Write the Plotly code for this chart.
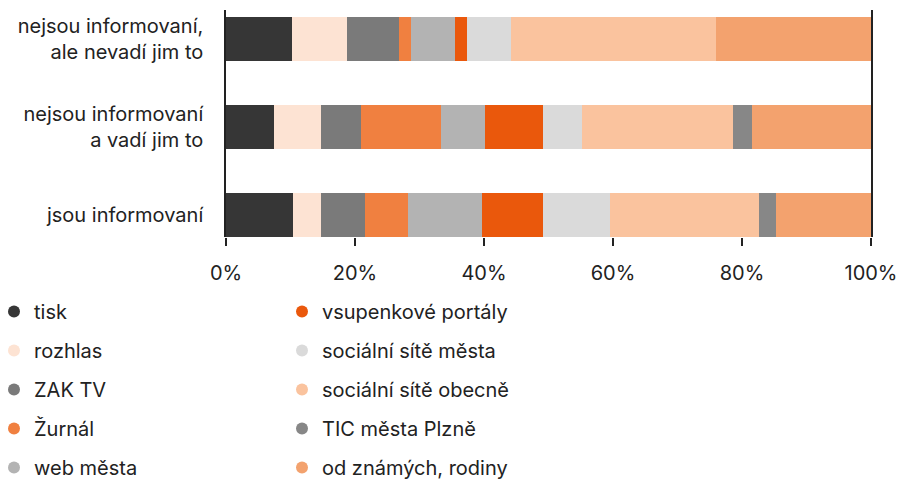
import plotly.graph_objects as go

categories = ["jsou informovaní",
              "nejsou informovaní<br>a vadí jim to",
              "nejsou informovaní,<br>ale nevadí jim to"]

series_names = ["tisk", "rozhlas", "ZAK TV", "Žurnál", "web města",
                "vsupenkové portály", "sociální sítě města", "sociální sítě obecně",
                "TIC města Plzně", "od známých, rodiny"]

# values per series, ordered as categories (bottom -> top)
tisk = [10.4, 7.4, 10.2]
rozhlas = [4.3, 7.3, 8.5]
zak_tv = [6.8, 6.2, 8.1]
zurnal = [6.7, 12.4, 1.9]
web_mesta = [11.5, 6.8, 6.8]
vstupenkove = [9.5, 9.1, 1.9]
soc_mesta = [10.4, 6.0, 6.8]
soc_obecne = [23.1, 23.4, 31.8]
tic = [2.5, 2.9, 0.0]
od_znamych = [14.8, 18.5, 24.0]

series_values = [tisk, rozhlas, zak_tv, zurnal, web_mesta, vstupenkove,
                 soc_mesta, soc_obecne, tic, od_znamych]

colors = ["#363636", "#fde3d3", "#7a7a7a", "#f08040", "#b3b3b3",
          "#ea580c", "#dadada", "#fac39e", "#878787", "#f3a26e"]

x_ticks = [0, 20, 40, 60, 80, 100]

FONT = "Inter"
TXT = "#222222"
W, H = 901, 479
L, R, T, B = 226, 30, 10, 242
PW = W - L - R

fig = go.Figure()
for name, vals, col in zip(series_names, series_values, colors):
    fig.add_trace(go.Bar(
        y=categories, x=vals, name=name, orientation="h",
        marker=dict(color=col, line=dict(width=0)),
        showlegend=False, hoverinfo="x+name"))

# legend entries (circle markers), split into two columns
for i, (name, col) in enumerate(zip(series_names, colors)):
    fig.add_trace(go.Scatter(
        x=[None], y=[None], mode="markers", name=name,
        marker=dict(color=col, size=12, symbol="circle"),
        legendgroup=name, showlegend=True,
        legend="legend" if i < 5 else "legend2"))

legend_common = dict(
    orientation="v", font=dict(family=FONT, size=20, color=TXT),
    bgcolor="rgba(0,0,0,0)", tracegroupgap=10, itemwidth=30,
    xanchor="left", yanchor="top", itemsizing="trace",
    traceorder="grouped", xref="paper", yref="container")

fig.update_layout(
    barmode="stack",
    bargap=0.5,
    width=W, height=H,
    margin=dict(l=L, r=R, t=T, b=B, autoexpand=False),
    paper_bgcolor="white", plot_bgcolor="white",
    font=dict(family=FONT, size=20, color=TXT),
    legend=dict(**legend_common, x=(-6 - L) / PW, y=1 - 292 / H),
    legend2=dict(**legend_common, x=(282 - L) / PW, y=1 - 292 / H),
    xaxis=dict(range=[0, 100], tickvals=x_ticks,
               ticktext=[f"{v}%" for v in x_ticks],
               showgrid=False, zeroline=False, showline=False,
               ticks="outside", ticklen=8, tickwidth=1.5, tickcolor=TXT,
               ticklabelstandoff=10, automargin=False,
               tickfont=dict(family=FONT, size=20, color=TXT)),
    yaxis=dict(range=[-0.25, 2.33], showgrid=False, zeroline=False,
               showline=True, mirror=True, linecolor=TXT, linewidth=1.5,
               ticks="", ticklabelstandoff=17, automargin=False,
               tickfont=dict(family=FONT, size=20, color=TXT)),
)

fig.write_html("out.html", config={"displayModeBar": False},
               post_script="document.body.style.margin='0';document.body.style.overflow='hidden';")
